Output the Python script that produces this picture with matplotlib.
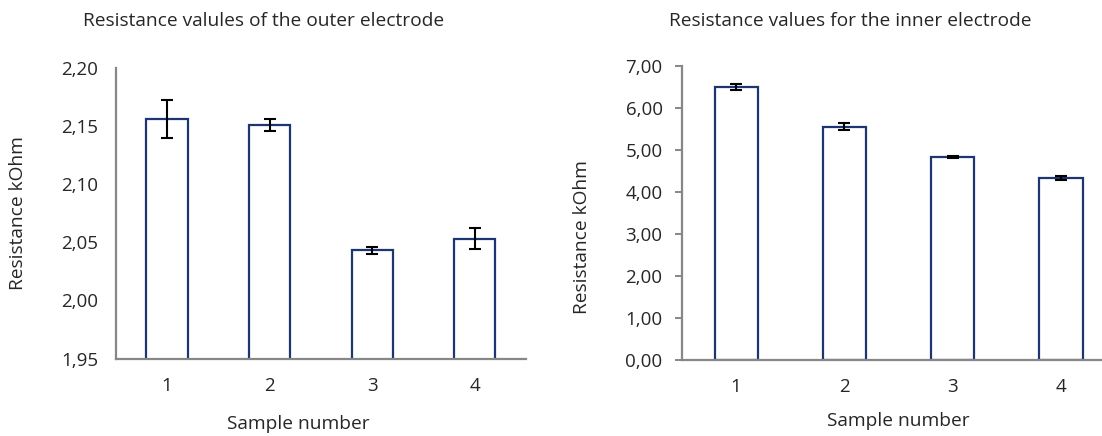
import matplotlib
matplotlib.use("Agg")
import matplotlib.pyplot as plt
from matplotlib.ticker import FuncFormatter

# data
samples = ["1", "2", "3", "4"]
outer_vals = [2.156, 2.151, 2.043, 2.053]
outer_err = [0.016, 0.005, 0.003, 0.009]
inner_vals = [6.50, 5.56, 4.84, 4.34]
inner_err = [0.08, 0.09, 0.02, 0.04]

outer_ticks = [1.95, 2.00, 2.05, 2.10, 2.15, 2.20]
inner_ticks = [0, 1, 2, 3, 4, 5, 6, 7]

plt.rcParams['font.family'] = ['Open Sans', 'DejaVu Sans']
plt.rcParams['font.size'] = 13
text_col = '#262626'
spine_col = '#878787'
edge_col = '#1d3672'

comma = FuncFormatter(lambda v, p: ("%.2f" % v).replace(".", ","))

fig = plt.figure(figsize=(11.02, 4.36), dpi=100)


def draw(ax, vals, errs, ticks, ylim, ticklen):
    xs = range(len(samples))
    ax.bar(xs, vals, width=0.4, color='white', edgecolor=edge_col, linewidth=1.6,
           zorder=2)
    ax.errorbar(xs, vals, yerr=errs, fmt='none', ecolor='black', elinewidth=1.5,
                capsize=4.3, capthick=1.5, zorder=3)
    ax.set_xlim(-0.5, 3.5)
    ax.set_ylim(*ylim)
    ax.set_yticks(ticks)
    ax.yaxis.set_major_formatter(comma)
    ax.set_xticks(list(xs))
    ax.set_xticklabels(samples)
    for s in ['top', 'right']:
        ax.spines[s].set_visible(False)
    for s in ['left', 'bottom']:
        ax.spines[s].set_color(spine_col)
        ax.spines[s].set_linewidth(1.6)
    ax.tick_params(axis='x', length=0, pad=13, labelsize=13.5, colors=text_col)
    ax.tick_params(axis='y', length=ticklen, width=1.4, color=spine_col,
                   pad=12.5 - ticklen * 0.7, labelsize=13.5, labelcolor=text_col)


ax1 = fig.add_axes([0.105, 0.1773, 0.3723, 0.6674])
draw(ax1, outer_vals, outer_err, outer_ticks, (1.95, 2.20), 0)

ax2 = fig.add_axes([0.6189, 0.1736, 0.393, 0.675])
draw(ax2, inner_vals, inner_err, inner_ticks, (0, 7), 5)

# titles and axis labels placed on the figure
fig.text(264 / 1102, 1 - 21 / 436, "Resistance valules of the outer electrode",
         ha='center', va='center', fontsize=13.8, color=text_col)
fig.text(850 / 1102, 1 - 21 / 436, "Resistance values for the inner electrode",
         ha='center', va='center', fontsize=13.8, color=text_col)
fig.text(298 / 1102, 1 - 424 / 436, "Sample number", ha='center', va='center',
         fontsize=13.8, color=text_col)
fig.text(898 / 1102, 1 - 421 / 436, "Sample number", ha='center', va='center',
         fontsize=13.8, color=text_col)
fig.text(18 / 1102, 1 - 213 / 436, "Resistance kOhm", ha='center', va='center',
         rotation=90, fontsize=13.8, color=text_col)
fig.text(582 / 1102, 1 - 237 / 436, "Resistance kOhm", ha='center', va='center',
         rotation=90, fontsize=13.8, color=text_col)

fig.savefig('out.png', dpi=100)
